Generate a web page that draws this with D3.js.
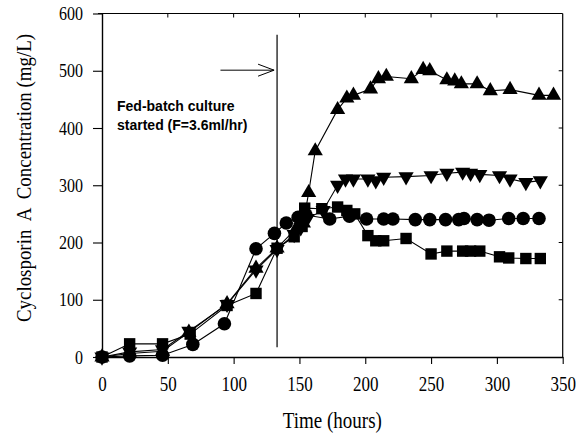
<!DOCTYPE html>
<html>
<head>
<meta charset="utf-8">
<script src="https://cdn.jsdelivr.net/npm/d3@7"></script>
<style>
  body { margin: 0; background: #fff; }
  svg { display: block; }
</style>
</head>
<body>
<svg></svg>
<script>
// Данные: [время (ч), концентрация (мг/л)]
const triangleUp = [
  [0, 0], [21, 6], [46, 10], [66, 43], [95, 93], [117, 155], [133, 190], [148, 226],
  [153, 234], [157, 287], [162, 360], [179, 432], [186, 452], [191, 457], [204, 468],
  [210, 486], [216, 490], [235, 486], [244, 502], [249, 500], [262, 484], [268, 482],
  [273, 477], [285, 477], [295, 465], [310, 467], [332, 457], [343, 457]
];
const triangleDown = [
  [0, 0], [21, 9], [46, 13], [66, 45], [95, 92], [117, 152], [133, 188], [146, 214],
  [151, 226], [156, 242], [168, 256], [179, 300], [185, 311], [191, 311], [202, 311],
  [208, 308], [214, 314], [231, 315], [250, 317], [262, 321], [274, 323], [280, 321],
  [287, 319], [302, 317], [310, 311], [322, 305], [333, 308]
];
const circles = [
  [0, 0], [21, 2], [46, 3], [69, 22], [93, 58], [117, 189], [131, 216], [140, 234],
  [149, 244], [155, 248], [173, 241], [188, 246], [201, 241], [214, 241], [221, 241],
  [238, 240], [249, 240], [261, 240], [271, 240], [275, 242], [285, 240], [294, 239],
  [309, 242], [320, 242], [332, 242]
];
const squares = [
  [0, 0], [21, 23], [46, 23], [67, 40], [95, 90], [117, 111], [133, 190], [146, 210],
  [152, 228], [154, 260], [167, 259], [179, 262], [186, 256], [192, 250], [202, 212],
  [208, 203], [214, 203], [231, 207], [250, 180], [262, 185], [274, 185], [280, 185],
  [287, 185], [302, 175], [309, 173], [322, 172], [333, 172]
];
const xTicks = [0, 50, 100, 150, 200, 250, 300, 350];
const yTicks = [0, 100, 200, 300, 400, 500, 600];
const feedStart = 133;
const noteLines = ["Fed-batch culture", "started (F=3.6ml/hr)"];

const width = 587, height = 436;
const svg = d3.select("svg").attr("width", width).attr("height", height);

const x = d3.scaleLinear().domain([0, 350]).range([102, 562.7]);
const y = d3.scaleLinear().domain([0, 600]).range([357, 13.5]);

const serif = "'Liberation Serif', 'Times New Roman', serif";

// Рамка: верх и правая сторона
svg.append("line").attr("x1", x(0) - 4).attr("x2", x(350)).attr("y1", y(600)).attr("y2", y(600))
  .attr("stroke", "#000").attr("stroke-width", 1.2);
svg.append("line").attr("x1", x(350)).attr("x2", x(350)).attr("y1", y(600)).attr("y2", y(0))
  .attr("stroke", "#000").attr("stroke-width", 1.2);

// Оси
const xAxis = svg.append("g").attr("transform", `translate(0,${y(0)})`)
  .call(d3.axisBottom(x).tickValues(xTicks).tickSize(7).tickSizeOuter(0));
const yAxis = svg.append("g").attr("transform", `translate(${x(0)},0)`)
  .call(d3.axisLeft(y).tickValues(yTicks).tickSize(9).tickSizeOuter(0).tickPadding(7));

[xAxis, yAxis].forEach(g => {
  g.select(".domain").attr("stroke-width", 1.4);
  g.selectAll(".tick line").attr("stroke-width", 1.1);
  g.selectAll(".tick text").attr("font-family", serif).attr("fill", "#000");
});
// подписи вытянуты по вертикали, как на скане
xAxis.selectAll(".tick text")
  .attr("font-size", 17).attr("y", null).attr("dy", null)
  .attr("transform", "translate(0,33.5) scale(1,1.25)");
yAxis.selectAll(".tick text")
  .attr("font-size", 16).attr("dy", null)
  .attr("transform", "translate(-3,6) scale(1,1.15)");

// Мелкие засечки справа и сверху (внутрь)
svg.append("g").selectAll("line").data(yTicks.slice(1, -1)).join("line")
  .attr("x1", x(350)).attr("x2", x(350) - 4).attr("y1", d => y(d)).attr("y2", d => y(d))
  .attr("stroke", "#000");
svg.append("g").selectAll("line").data(xTicks.slice(1, -1)).join("line")
  .attr("x1", d => x(d)).attr("x2", d => x(d)).attr("y1", y(600)).attr("y2", y(600) + 4)
  .attr("stroke", "#000");

// Подписи осей
svg.append("text")
  .attr("transform", `translate(${(x(0) + x(350)) / 2},428) scale(1,1.19)`)
  .attr("text-anchor", "middle")
  .attr("font-family", serif).attr("font-size", 19)
  .text("Time (hours)");
svg.append("text")
  .attr("transform", "translate(31,178) rotate(-90)")
  .attr("text-anchor", "middle")
  .attr("font-family", serif).attr("font-size", 20)
  .attr("textLength", 288).attr("lengthAdjust", "spacingAndGlyphs")
  .attr("xml:space", "preserve")
  .text("Cyclosporin  A  Concentration (mg/L)");

// Вертикальная линия начала подпитки
svg.append("line")
  .attr("x1", x(feedStart)).attr("x2", x(feedStart))
  .attr("y1", y(563)).attr("y2", y(17))
  .attr("stroke", "#000").attr("stroke-width", 1.2);

// Стрелка
const ay = y(501);
svg.append("line").attr("x1", x(90)).attr("x2", x(feedStart) - 3).attr("y1", ay).attr("y2", ay)
  .attr("stroke", "#000").attr("stroke-width", 1);
svg.append("path")
  .attr("d", `M${x(feedStart) - 19},${ay - 6} L${x(feedStart) - 3},${ay} L${x(feedStart) - 19},${ay + 6}`)
  .attr("fill", "none").attr("stroke", "#000").attr("stroke-width", 1);

// Текст аннотации
svg.append("g").selectAll("text").data(noteLines).join("text")
  .attr("x", 117).attr("y", (d, i) => 111 + i * 19)
  .attr("font-family", "'Liberation Sans', Arial, sans-serif")
  .attr("font-weight", "bold").attr("font-size", 14)
  .text(d => d);

// Серии
const series = [
  { data: squares, symbol: d3.symbolSquare, size: 130, rot: 0 },
  { data: circles, symbol: d3.symbolCircle, size: 145, rot: 0 },
  { data: triangleDown, symbol: d3.symbolTriangle, size: 100, rot: 180 },
  { data: triangleUp, symbol: d3.symbolTriangle, size: 100, rot: 0 }
];

const line = d3.line().x(d => x(d[0])).y(d => y(d[1]));

series.forEach(s => {
  svg.append("path")
    .attr("d", line(s.data))
    .attr("fill", "none").attr("stroke", "#000").attr("stroke-width", 1.1);
});

series.forEach(s => {
  svg.append("g").selectAll("path").data(s.data).join("path")
    .attr("d", d3.symbol().type(s.symbol).size(s.size))
    .attr("transform", d => `translate(${x(d[0])},${y(d[1])}) rotate(${s.rot})`)
    .attr("fill", "#000");
});
</script>
</body>
</html>
